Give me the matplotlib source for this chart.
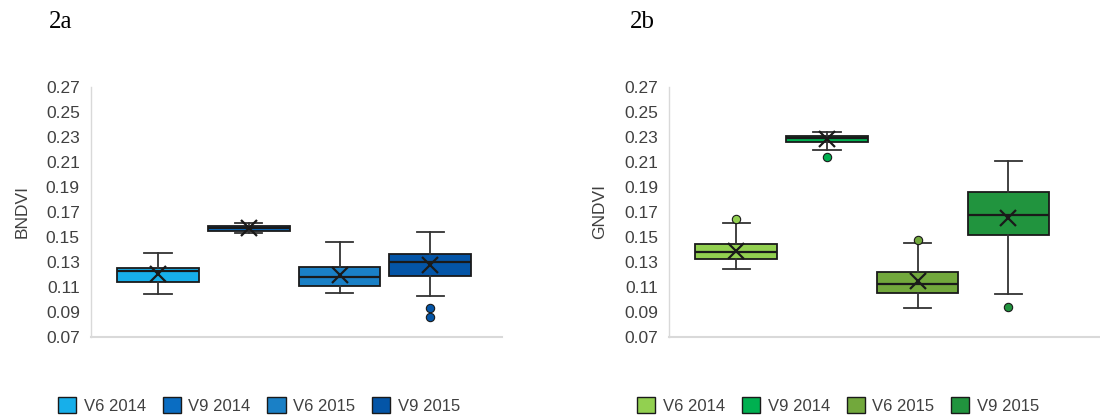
import numpy as np
import matplotlib.pyplot as plt
from matplotlib.patches import Patch

plt.rcParams['font.family'] = ['Liberation Sans', 'DejaVu Sans']

series = ['V6 2014', 'V9 2014', 'V6 2015', 'V9 2015']

# BNDVI box statistics (whisker low, q1, median, q3, whisker high, mean)
bndvi_wlo = [0.104, 0.153, 0.105, 0.103]
bndvi_q1 = [0.114, 0.155, 0.111, 0.119]
bndvi_med = [0.1225, 0.157, 0.118, 0.130]
bndvi_q3 = [0.125, 0.159, 0.126, 0.136]
bndvi_whi = [0.137, 0.161, 0.146, 0.154]
bndvi_mean = [0.120, 0.157, 0.1195, 0.1275]
bndvi_out = [[], [], [], [0.093, 0.086]]

# GNDVI box statistics
gndvi_wlo = [0.1245, 0.2195, 0.093, 0.104]
gndvi_q1 = [0.1325, 0.226, 0.1055, 0.1515]
gndvi_med = [0.138, 0.229, 0.112, 0.1675]
gndvi_q3 = [0.1445, 0.231, 0.122, 0.186]
gndvi_whi = [0.161, 0.234, 0.1455, 0.211]
gndvi_mean = [0.139, 0.2285, 0.1145, 0.1655]
gndvi_out = [[0.1645], [0.2138], [0.1474], [0.0938]]

blues = ['#17afea', '#0a6dc2', '#1a80c6', '#0455a7']
greens = ['#92d050', '#00b050', '#72a83c', '#21943e']

yticks = [0.07, 0.09, 0.11, 0.13, 0.15, 0.17, 0.19, 0.21, 0.23, 0.25, 0.27]

fig = plt.figure(figsize=(11, 4.19), dpi=100)
ax1 = fig.add_axes([0.0827, 0.1957, 0.3736, 0.5967])
ax2 = fig.add_axes([0.6082, 0.1957, 0.3918, 0.5967])


def draw_panel(ax, wlo, q1, med, q3, whi, mean, out, colors, ylabel, xmax):
    stats = []
    for i in range(len(series)):
        stats.append(dict(whislo=wlo[i], q1=q1[i], med=med[i], q3=q3[i],
                          whishi=whi[i], mean=mean[i], fliers=out[i],
                          label=series[i]))
    pos = np.arange(1, len(series) + 1)
    bp = ax.bxp(stats, positions=pos, widths=0.9, patch_artist=True,
                showmeans=True, showfliers=True,
                boxprops=dict(edgecolor='#1a1a1a', linewidth=1.3),
                medianprops=dict(color='#1a1a1a', linewidth=1.6),
                whiskerprops=dict(color='#333333', linewidth=1.3),
                capprops=dict(color='#333333', linewidth=1.3),
                capwidths=0.3,
                meanprops=dict(marker='x', markeredgecolor='#1a1a1a',
                               markersize=11, markeredgewidth=1.6))
    for i, box in enumerate(bp['boxes']):
        box.set_facecolor(colors[i])
    for i, fl in enumerate(bp['fliers']):
        fl.set(marker='o', markerfacecolor=colors[i], markeredgecolor='#1a1a1a',
               markersize=6, markeredgewidth=0.8)

    ax.set_xlim(0.26, xmax)
    ax.set_ylim(0.07, 0.27)
    ax.set_yticks(yticks)
    ax.set_yticklabels([f'{v:.2f}' for v in yticks])
    ax.set_xticks([])
    ax.tick_params(axis='y', length=0, pad=8, labelsize=12.5, labelcolor='#404040')
    for side in ['top', 'right']:
        ax.spines[side].set_visible(False)
    ax.spines['left'].set_color('#d9d9d9')
    ax.spines['bottom'].set_color('#d9d9d9')
    ax.spines['left'].set_linewidth(1.0)
    ax.spines['bottom'].set_linewidth(1.5)
    ax.set_ylabel(ylabel, fontsize=12.5, color='#404040', labelpad=12)


draw_panel(ax1, bndvi_wlo, bndvi_q1, bndvi_med, bndvi_q3, bndvi_whi,
           bndvi_mean, bndvi_out, blues, 'BNDVI', 4.79)
draw_panel(ax2, gndvi_wlo, gndvi_q1, gndvi_med, gndvi_q3, gndvi_whi,
           gndvi_mean, gndvi_out, greens, 'GNDVI', 5.01)

for colors, xc in [(blues, 0.2355), (greens, 0.762)]:
    handles = [Patch(facecolor=c, edgecolor='#1a1a1a', linewidth=1.0) for c in colors]
    fig.legend(handles, series, loc='center', bbox_to_anchor=(xc, 0.032),
               ncol=4, frameon=False, fontsize=12, handlelength=1.1,
               handleheight=1.1, handletextpad=0.45, columnspacing=1.0,
               labelcolor='#404040')

fig.text(0.044, 0.947, '2a', fontsize=18, family='Liberation Serif', va='center')
fig.text(0.573, 0.947, '2b', fontsize=18, family='Liberation Serif', va='center')

fig.savefig('out.png', dpi=100, facecolor='white')
